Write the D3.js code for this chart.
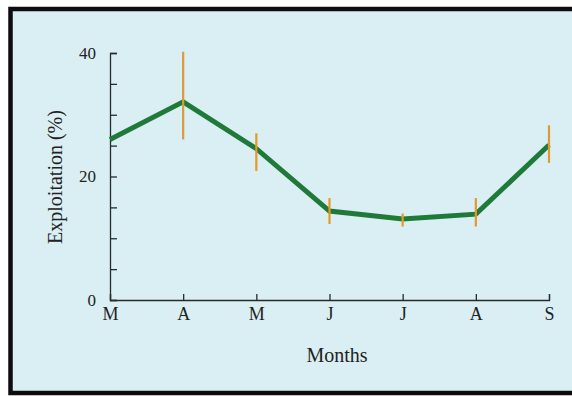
<!DOCTYPE html>
<html>
<head>
<meta charset="utf-8">
<script src="https://cdn.jsdelivr.net/npm/d3@7"></script>
<style>
  html, body { margin: 0; padding: 0; background: #ffffff; }
  svg { display: block; }
  text { font-family: "Liberation Serif", "DejaVu Serif", serif; fill: #222; }
</style>
</head>
<body>
<svg id="chart" width="572" height="396"></svg>
<script>
// Monthly exploitation rate (%) with error range
const months = ["M", "A", "M", "J", "J", "A", "S"];
const meanValues = [26, 32.1, 24.5, 14.4, 13.1, 13.9, 25.1];
const errLow = [null, 26, 20.9, 12.3, 11.9, 11.9, 22.2];
const errHigh = [null, 40.2, 27, 16.5, 14, 16.5, 28.3];
const yTickLabels = [0, 20, 40];
const yMinorTicks = [0, 5, 10, 15, 20, 25, 30, 35, 40];

const svg = d3.select("#chart");

// Panel background and frame
svg.append("rect")
  .attr("x", 10.5).attr("y", 9)
  .attr("width", 575).attr("height", 384)
  .attr("fill", "#d9eff4")
  .attr("stroke", "#0d0d0d").attr("stroke-width", 4.5);

const x = d3.scalePoint().domain(d3.range(months.length)).range([110, 549]);
const y = d3.scaleLinear().domain([0, 40]).range([300, 53]);

const axisColor = "#2a2a2a";

// X axis with inward ticks
const xAxis = svg.append("g")
  .attr("transform", "translate(0,300)")
  .call(d3.axisBottom(x).tickSizeInner(-6).tickSizeOuter(-6).tickFormat(i => months[i]).tickPadding(7));
xAxis.attr("font-size", 18).attr("font-family", "Liberation Serif, serif");
xAxis.select(".domain").attr("stroke", axisColor).attr("stroke-width", 1.3);
xAxis.selectAll(".tick line").attr("stroke", axisColor).attr("stroke-width", 1.3);
xAxis.selectAll(".tick text").attr("fill", "#222");

// Y axis with inward minor ticks
const yAxis = svg.append("g")
  .attr("transform", "translate(110,0)")
  .call(d3.axisLeft(y).tickValues(yMinorTicks).tickSizeInner(-7).tickSizeOuter(-7)
    .tickFormat(d => yTickLabels.includes(d) ? d : "").tickPadding(14));
yAxis.attr("font-size", 17).attr("font-family", "Liberation Serif, serif");
yAxis.select(".domain").attr("stroke", axisColor).attr("stroke-width", 1.3);
yAxis.selectAll(".tick line").attr("stroke", axisColor).attr("stroke-width", 1.3);
yAxis.selectAll(".tick text").attr("fill", "#222");

// Axis titles
svg.append("text")
  .attr("x", 337).attr("y", 362)
  .attr("text-anchor", "middle")
  .attr("font-size", 20)
  .text("Months");

svg.append("text")
  .attr("transform", "translate(62,177) rotate(-90)")
  .attr("text-anchor", "middle")
  .attr("font-size", 20)
  .text("Exploitation (%)");

// Mean line
const line = d3.line()
  .x((d, i) => x(i))
  .y(d => y(d));

svg.append("path")
  .datum(meanValues)
  .attr("d", line)
  .attr("fill", "none")
  .attr("stroke", "#1f7a3a")
  .attr("stroke-width", 5)
  .attr("stroke-linejoin", "miter");

// Error bars
const errIdx = d3.range(months.length).filter(i => errLow[i] !== null);
svg.append("g").selectAll("line")
  .data(errIdx)
  .join("line")
  .attr("x1", i => x(i)).attr("x2", i => x(i))
  .attr("y1", i => y(errHigh[i])).attr("y2", i => y(errLow[i]))
  .attr("stroke", "#e29a2e")
  .attr("stroke-width", 2.2);
</script>
</body>
</html>
